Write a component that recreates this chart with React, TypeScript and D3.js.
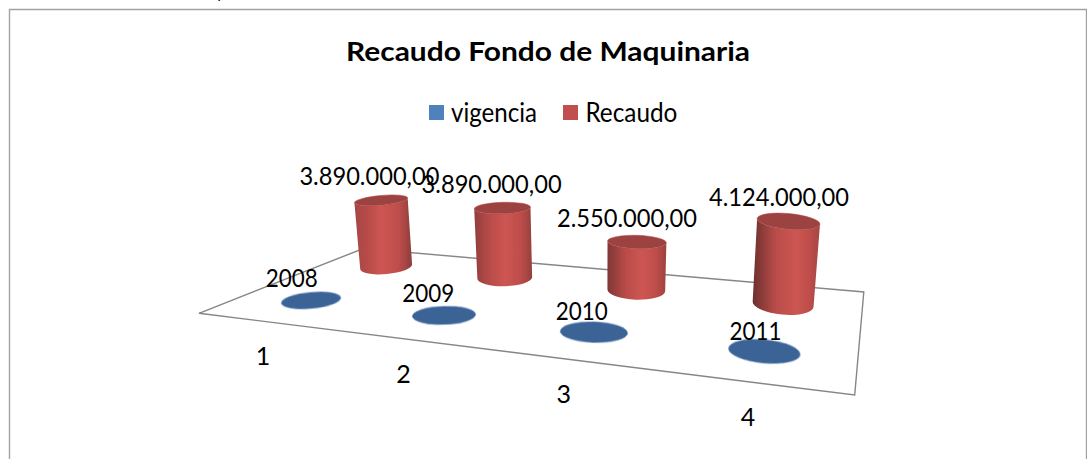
import React from "react";
import * as d3 from "d3";

const title = "Recaudo Fondo de Maquinaria";
const seriesNames = ["vigencia", "Recaudo"];
const categories = ["1", "2", "3", "4"];
const vigencia = [2008, 2009, 2010, 2011];
const recaudo = [3890000, 3890000, 2550000, 4124000];
const recaudoLabels = ["3.890.000,00", "3.890.000,00", "2.550.000,00", "4.124.000,00"];

const FONT = "Lato, Carlito, Calibri, sans-serif";
const W = 1087;
const H = 459;

// floor plane corners (front-left, front-right, back-right, back-left)
const floor: [number, number][] = [
  [199, 313.3],
  [854.7, 395],
  [863.8, 292],
  [363.4, 248.5],
];

function makeProjection(q: [number, number][]) {
  const [[x0, y0], [x1, y1], [x2, y2], [x3, y3]] = q;
  const dx1 = x1 - x2, dx2 = x3 - x2, sx = x0 - x1 + x2 - x3;
  const dy1 = y1 - y2, dy2 = y3 - y2, sy = y0 - y1 + y2 - y3;
  const det = dx1 * dy2 - dx2 * dy1;
  const g = (sx * dy2 - dx2 * sy) / det;
  const h = (dx1 * sy - sx * dy1) / det;
  const a = x1 - x0 + g * x1, b = x3 - x0 + h * x3;
  const d = y1 - y0 + g * y1, e = y3 - y0 + h * y3;
  return (u: number, v: number) => {
    const w = g * u + h * v + 1;
    return { x: (a * u + b * v + x0) / w, y: (d * u + e * v + y0) / w, w };
  };
}
const project = makeProjection(floor);

const uScale = d3.scaleBand<string>().domain(categories).range([0, 1]);
const vScale = d3.scaleBand<string>().domain(seriesNames).range([0, 1]);
const heightScale = d3.scaleLinear().domain([0, 4124000]).range([0, 85]);

const U = (c: string) => (uScale(c) as number) + uScale.bandwidth() / 2;
const V = (s: string) => (vScale(s) as number) + vScale.bandwidth() / 2;
const RADIUS = 31.4;
const LEAN = 0.00036;

function Cylinder({ i, c }: { i: number; c: string }) {
  const u = U(c);
  const p0 = project(u, V("Recaudo"));
  const p = { x: p0.x + 1, y: p0.y, w: p0.w };
  const rx = RADIUS / p.w;
  const ry = rx * (0.27 + 0.085 * u);
  const h = heightScale(recaudo[i]) / p.w;
  const lean = (p.x - 600) * h * LEAN;
  const tx = p.x + lean;
  const ty = p.y - h;
  const trx = rx * (1 + h * 0.0004);
  const try_ = trx * (0.17 + 0.09 * u);
  const angle = 14 * (u - 0.5);
  const rot = (angle * Math.PI) / 180;
  const cs = Math.cos(rot), sn = Math.sin(rot);
  const body = [
    `M${tx - trx * cs},${ty - trx * sn}`,
    `L${p.x - rx * cs},${p.y - rx * sn}`,
    `A${rx},${ry} ${angle} 0 0 ${p.x + rx * cs},${p.y + rx * sn}`,
    `L${tx + trx * cs},${ty + trx * sn}`,
    `A${trx},${try_} ${angle} 0 1 ${tx - trx * cs},${ty - trx * sn}`,
    "Z",
  ].join(" ");
  return (
    <g filter="url(#soft)">
      <path d={body} fill={`url(#cyl${i})`} />
      <ellipse
        cx={tx}
        cy={ty}
        rx={trx}
        ry={try_}
        transform={`rotate(${angle} ${tx} ${ty})`}
        fill="#9c4240"
        stroke="#b04b48"
        strokeWidth={0.5}
      />
    </g>
  );
}

export default function App() {
  return (
    <svg
      width={W}
      height={H}
      viewBox={`0 0 ${W} ${H}`}
      style={{ position: "absolute", left: 0, top: 0, display: "block", background: "#fff" }}
    >
      <defs>
        <filter id="soft" x="-10%" y="-10%" width="120%" height="120%">
          <feGaussianBlur stdDeviation="0.45" />
        </filter>
        {categories.map((c, i) => {
          const u = U(c);
          const peak = 0.45 + 0.22 * u;
          const left = d3.interpolateRgb("#ad4846", "#642c2a")(u);
          const right = d3.interpolateRgb("#8a3c3a", "#a84644")(u);
          return (
            <linearGradient id={`cyl${i}`} key={c} x1="0" x2="1" y1="0" y2="0">
              <stop offset="0" stopColor={left} />
              <stop offset={peak * 0.55} stopColor="#bb4d4a" />
              <stop offset={peak} stopColor="#cd5552" />
              <stop offset={peak + (1 - peak) * 0.55} stopColor="#bf4e4b" />
              <stop offset="1" stopColor={right} />
            </linearGradient>
          );
        })}
      </defs>

      {/* outer frame */}
      <path d="M9.5,459 V9.5 H1086.5 V459" fill="none" stroke="#a3a3a3" strokeWidth={1.4} />
      <text x={216} y={-2} fontFamily={FONT} fontSize={17} fill="#111">
        y
      </text>

      {/* title */}
      <text x={548} y={60.5} textAnchor="middle" fontFamily={FONT} fontWeight={700} fontSize={27} textLength={404} lengthAdjust="spacingAndGlyphs" fill="#000">
        {title}
      </text>

      {/* legend */}
      <rect x={429} y={105} width={15} height={15} fill="#4f81bd" />
      <text x={451} y={121.5} fontFamily={FONT} fontSize={26} textLength={86} lengthAdjust="spacingAndGlyphs" fill="#000">
        {seriesNames[0]}
      </text>
      <rect x={563} y={105} width={15} height={15} fill="#c0504d" />
      <text x={585.4} y={121.5} fontFamily={FONT} fontSize={26} textLength={92} lengthAdjust="spacingAndGlyphs" fill="#000">
        {seriesNames[1]}
      </text>

      {/* floor */}
      <path
        d={(d3.line()(floor) as string) + "Z"}
        fill="none"
        stroke="#868686"
        strokeWidth={1.4}
      />

      {/* Recaudo cylinders */}
      {categories.map((c, i) => (
        <Cylinder key={c} i={i} c={c} />
      ))}

      {/* vigencia discs */}
      {categories.map((c) => {
        const u = U(c);
        const p = project(u, V("vigencia"));
        const rx = RADIUS / p.w;
        const ry = rx * (0.265 + 0.07 * u);
        return (
          <ellipse
            key={c}
            cx={p.x + 1}
            cy={p.y}
            rx={rx}
            ry={ry}
            transform={`rotate(${14 * (u - 0.5)} ${p.x + 1} ${p.y})`}
            fill="#3a6396"
            stroke="#7ea3cf"
            strokeWidth={0.5}
            filter="url(#soft)"
          />
        );
      })}

      {/* data labels */}
      {categories.map((c, i) => {
        const u = U(c);
        const p = project(u, V("Recaudo"));
        const h = heightScale(recaudo[i]) / p.w;
        const tx = p.x + (p.x - 600) * h * 0.00028;
        return (
          <text key={c} x={tx - 12.5 + 6 * u} y={p.y - h - 15} textAnchor="middle" fontFamily={FONT} fontSize={25} textLength={140} lengthAdjust="spacingAndGlyphs" fill="#000">
            {recaudoLabels[i]}
          </text>
        );
      })}
      {categories.map((c, i) => {
        const u = U(c);
        const p = project(u, V("vigencia"));
        return (
          <text key={c} x={p.x - 20 + 14 * u} y={p.y - 14 + 3 * u} textAnchor="middle" fontFamily={FONT} fontSize={25} textLength={52} lengthAdjust="spacingAndGlyphs" fill="#000">
            {vigencia[i]}
          </text>
        );
      })}

      {/* category axis */}
      {categories.map((c) => {
        const u = U(c);
        const p = project(u, 0);
        return (
          <text key={c} x={p.x - 3.5 * u} y={p.y + 44} textAnchor="middle" fontFamily={FONT} fontSize={25} fill="#000">
            {c}
          </text>
        );
      })}
    </svg>
  );
}
